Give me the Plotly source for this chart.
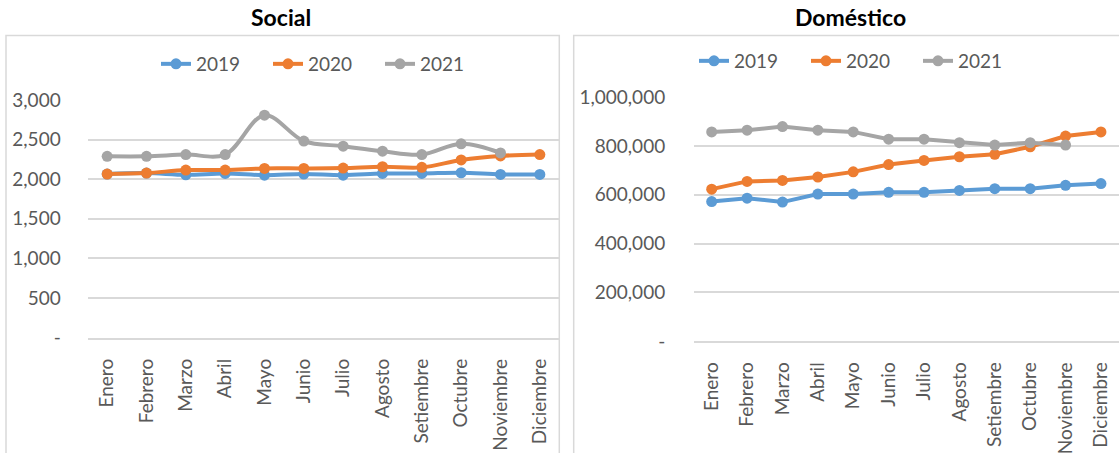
import plotly.graph_objects as go

# Categories
meses = ["Enero", "Febrero", "Marzo", "Abril", "Mayo", "Junio", "Julio",
         "Agosto", "Setiembre", "Octubre", "Noviembre", "Diciembre"]

# Social
social_2019 = [2064, 2077, 2055, 2072, 2051, 2064, 2051, 2072, 2072, 2081, 2060, 2060]
social_2020 = [2064, 2077, 2115, 2115, 2136, 2136, 2140, 2157, 2149, 2243, 2294, 2311]
social_2021 = [2289, 2289, 2311, 2311, 2808, 2481, 2417, 2353, 2311, 2447, 2332, None]

# Doméstico
domestico_2019 = [572000, 586000, 570000, 603000, 603000, 610000, 610000, 618000,
                  625000, 625000, 639000, 646000]
domestico_2020 = [623000, 655000, 659000, 673000, 694000, 724000, 741000, 756000,
                  766000, 797000, 841000, 858000]
domestico_2021 = [858000, 865000, 880000, 865000, 858000, 828000, 828000, 814000,
                  804000, 814000, 804000, None]

anios = ["2019", "2020", "2021"]

# Axis tick labels
social_ticks = [0, 500, 1000, 1500, 2000, 2500, 3000]
social_ticktext = ["-", "500", "1,000", "1,500", "2,000", "2,500", "3,000"]
dom_ticks = [0, 200000, 400000, 600000, 800000, 1000000]
dom_ticktext = ["-", "200,000", "400,000", "600,000", "800,000", "1,000,000"]

colores = ["#5B9BD5", "#ED7D31", "#A5A5A5"]
W, H = 1119, 453
FONT = "Lato"
GRID = "#D9D9D9"
TXT = "#595959"

fig = go.Figure()

for serie, anio, color in zip([social_2019, social_2020, social_2021], anios, colores):
    fig.add_trace(go.Scatter(
        x=meses, y=serie, name=anio, mode="lines+markers",
        line=dict(color=color, width=4, shape="spline", smoothing=1),
        marker=dict(color=color, size=11),
        xaxis="x", yaxis="y", legend="legend",
    ))

for serie, anio, color in zip([domestico_2019, domestico_2020, domestico_2021], anios, colores):
    fig.add_trace(go.Scatter(
        x=meses, y=serie, name=anio, mode="lines+markers",
        line=dict(color=color, width=4),
        marker=dict(color=color, size=11),
        xaxis="x2", yaxis="y2", legend="legend2",
    ))

xcommon = dict(
    type="category", tickangle=-90, automargin=False,
    tickfont=dict(family=FONT, size=19, color=TXT),
    showgrid=False, showline=True, linecolor=GRID, linewidth=1.5,
    ticks="outside", ticklen=12, tickcolor="rgba(0,0,0,0)",
    fixedrange=True,
)
ycommon = dict(
    automargin=False,
    tickfont=dict(family=FONT, size=19, color=TXT),
    showgrid=True, gridcolor=GRID, gridwidth=1.5, zeroline=False,
    showline=False, ticks="outside", tickcolor="rgba(0,0,0,0)",
    fixedrange=True,
)

legend_common = dict(
    orientation="h", xanchor="center", yanchor="middle",
    font=dict(family=FONT, size=19, color=TXT),
    entrywidth=67, entrywidthmode="pixels",
    bgcolor="rgba(0,0,0,0)",
)

fig.update_layout(
    width=W, height=H,
    margin=dict(l=0, r=0, t=0, b=0, autoexpand=False),
    paper_bgcolor="white", plot_bgcolor="white",
    font=dict(family=FONT, color=TXT),
    showlegend=True,
    xaxis=dict(domain=[87.5 / W, 559.5 / W], anchor="y", range=[-0.5, 11.5], **xcommon),
    yaxis=dict(domain=[1 - 337.5 / H, 1 - 100 / H], anchor="x",
               range=[0, 3000], tickvals=social_ticks, ticktext=social_ticktext,
               ticklen=22, **ycommon),
    # right panel runs slightly past the page edge, so widen the category range instead
    xaxis2=dict(domain=[694 / W, 1.0], anchor="y2", range=[-0.5, 11.51], **xcommon),
    yaxis2=dict(domain=[1 - 341 / H, 1 - 97.3 / H], anchor="x2",
                range=[0, 1000000], tickvals=dom_ticks, ticktext=dom_ticktext,
                ticklen=24, **ycommon),
    legend=dict(x=324 / W, y=1 - 64 / H, **legend_common),
    legend2=dict(x=862 / W, y=1 - 61 / H, **legend_common),
    annotations=[
        dict(text="<b>Social</b>", x=280.5 / W, y=1 - 17 / H, xref="paper", yref="paper",
             xanchor="center", yanchor="middle", showarrow=False,
             font=dict(family=FONT, size=23, color="black")),
        dict(text="<b>Doméstico</b>", x=850 / W, y=1 - 17 / H, xref="paper", yref="paper",
             xanchor="center", yanchor="middle", showarrow=False,
             font=dict(family=FONT, size=23, color="black")),
    ],
    shapes=[
        dict(type="rect", xref="paper", yref="paper",
             x0=6 / W, x1=559.3 / W, y0=-0.1, y1=1 - 35.5 / H,
             line=dict(color=GRID, width=1.5), fillcolor="rgba(0,0,0,0)", layer="below"),
        dict(type="rect", xref="paper", yref="paper",
             x0=573.7 / W, x1=1.1, y0=-0.1, y1=1 - 35.5 / H,
             line=dict(color=GRID, width=1.5), fillcolor="rgba(0,0,0,0)", layer="below"),
    ],
)

fig.write_html("out.html")
